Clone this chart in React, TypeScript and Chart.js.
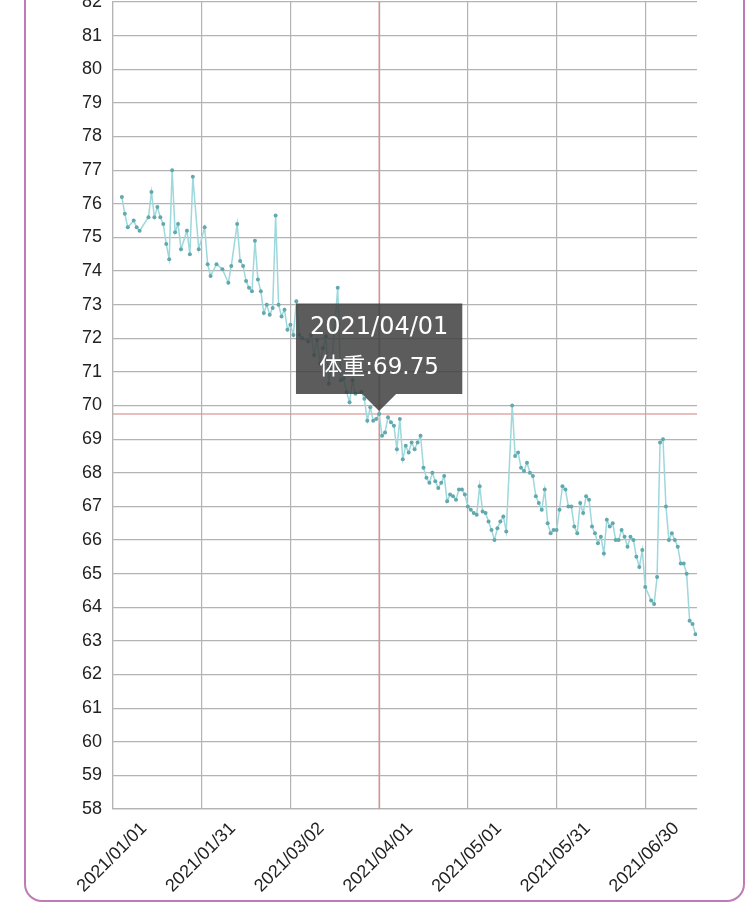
import { useEffect, useRef } from 'react';
import { Chart, registerables } from 'chart.js';

Chart.register(...registerables);

const dates = [
  '2021/01/04', '2021/01/05', '2021/01/06', '2021/01/08', '2021/01/09', '2021/01/10',
  '2021/01/13', '2021/01/14', '2021/01/15', '2021/01/16', '2021/01/17', '2021/01/18',
  '2021/01/19', '2021/01/20', '2021/01/21', '2021/01/22', '2021/01/23', '2021/01/24',
  '2021/01/26', '2021/01/27', '2021/01/28', '2021/01/30', '2021/02/01', '2021/02/02',
  '2021/02/03', '2021/02/05', '2021/02/07', '2021/02/09', '2021/02/10', '2021/02/12',
  '2021/02/13', '2021/02/14', '2021/02/15', '2021/02/16', '2021/02/17', '2021/02/18',
  '2021/02/19', '2021/02/20', '2021/02/21', '2021/02/22', '2021/02/23', '2021/02/24',
  '2021/02/25', '2021/02/26', '2021/02/27', '2021/02/28', '2021/03/01', '2021/03/02',
  '2021/03/03', '2021/03/04', '2021/03/05', '2021/03/06', '2021/03/08', '2021/03/09',
  '2021/03/10', '2021/03/11', '2021/03/12', '2021/03/13', '2021/03/14', '2021/03/15',
  '2021/03/16', '2021/03/18', '2021/03/19', '2021/03/20', '2021/03/21', '2021/03/22',
  '2021/03/23', '2021/03/24', '2021/03/26', '2021/03/27', '2021/03/28', '2021/03/29',
  '2021/03/30', '2021/03/31', '2021/04/01', '2021/04/02', '2021/04/03', '2021/04/04',
  '2021/04/05', '2021/04/06', '2021/04/07', '2021/04/08', '2021/04/09', '2021/04/10',
  '2021/04/11', '2021/04/12', '2021/04/13', '2021/04/14', '2021/04/15', '2021/04/16',
  '2021/04/17', '2021/04/18', '2021/04/19', '2021/04/20', '2021/04/21', '2021/04/22',
  '2021/04/23', '2021/04/24', '2021/04/25', '2021/04/26', '2021/04/27', '2021/04/28',
  '2021/04/29', '2021/04/30', '2021/05/01', '2021/05/02', '2021/05/03', '2021/05/04',
  '2021/05/05', '2021/05/06', '2021/05/07', '2021/05/08', '2021/05/09', '2021/05/10',
  '2021/05/11', '2021/05/12', '2021/05/13', '2021/05/14', '2021/05/16', '2021/05/17',
  '2021/05/18', '2021/05/19', '2021/05/20', '2021/05/21', '2021/05/22', '2021/05/23',
  '2021/05/24', '2021/05/25', '2021/05/26', '2021/05/27', '2021/05/28', '2021/05/29',
  '2021/05/30', '2021/05/31', '2021/06/01', '2021/06/02', '2021/06/03', '2021/06/04',
  '2021/06/05', '2021/06/06', '2021/06/07', '2021/06/08', '2021/06/09', '2021/06/10',
  '2021/06/11', '2021/06/12', '2021/06/13', '2021/06/14', '2021/06/15', '2021/06/16',
  '2021/06/17', '2021/06/18', '2021/06/19', '2021/06/20', '2021/06/21', '2021/06/22',
  '2021/06/23', '2021/06/24', '2021/06/25', '2021/06/26', '2021/06/27', '2021/06/28',
  '2021/06/29', '2021/06/30', '2021/07/02', '2021/07/03', '2021/07/04', '2021/07/05',
  '2021/07/06', '2021/07/07', '2021/07/08', '2021/07/09', '2021/07/10', '2021/07/11',
  '2021/07/12', '2021/07/13', '2021/07/14', '2021/07/15', '2021/07/16', '2021/07/17',
];

const weights = [
  76.2, 75.7, 75.3, 75.5, 75.3, 75.2,
  75.6, 76.35, 75.6, 75.9, 75.6, 75.4,
  74.8, 74.35, 77.0, 75.15, 75.4, 74.65,
  75.2, 74.5, 76.8, 74.65, 75.3, 74.2,
  73.85, 74.2, 74.05, 73.65, 74.15, 75.4,
  74.3, 74.15, 73.7, 73.5, 73.4, 74.9,
  73.75, 73.4, 72.75, 73.0, 72.7, 72.9,
  75.65, 73.0, 72.65, 72.85, 72.25, 72.4,
  72.1, 73.1, 72.1, 72.0, 71.9, 72.1,
  71.5, 71.95, 71.25, 71.7, 72.05, 70.65,
  71.3, 73.5, 70.75, 70.8, 70.4, 70.1,
  70.75, 70.35, 70.4, 70.2, 69.55, 69.95,
  69.55, 69.6, 69.75, 69.1, 69.2, 69.65,
  69.5, 69.4, 68.7, 69.6, 68.4, 68.8,
  68.6, 68.9, 68.7, 68.9, 69.1, 68.15,
  67.85, 67.7, 68.0, 67.75, 67.55, 67.7,
  67.9, 67.15, 67.35, 67.3, 67.2, 67.5,
  67.5, 67.35, 67.0, 66.9, 66.8, 66.75,
  67.6, 66.85, 66.8, 66.55, 66.3, 66.0,
  66.35, 66.55, 66.7, 66.25, 70.0, 68.5,
  68.6, 68.15, 68.05, 68.3, 68.0, 67.9,
  67.3, 67.1, 66.9, 67.5, 66.5, 66.2,
  66.3, 66.3, 66.9, 67.6, 67.5, 67.0,
  67.0, 66.4, 66.2, 67.1, 66.8, 67.3,
  67.2, 66.4, 66.2, 65.9, 66.1, 65.6,
  66.6, 66.4, 66.5, 66.0, 66.0, 66.3,
  66.1, 65.8, 66.1, 66.0, 65.5, 65.2,
  65.7, 64.6, 64.2, 64.1, 64.9, 68.9,
  69.0, 67.0, 66.0, 66.2, 66.0, 65.8,
  65.3, 65.3, 65.0, 63.6, 63.5, 63.2,
];

const xTickLabels = [
  '2021/01/01', '2021/01/31', '2021/03/02', '2021/04/01',
  '2021/05/01', '2021/05/31', '2021/06/30',
];

const axisStartDate = '2021/01/01';
const axisEndDate = '2021/07/17';
const yMin = 58;
const yMax = 82;
const highlightDate = '2021/04/01';
const seriesLabel = '体重';

function dayOf(s: string): number {
  const [y, m, d] = s.split('/').map(Number);
  const [y0, m0, d0] = axisStartDate.split('/').map(Number);
  return (Date.UTC(y, m - 1, d) - Date.UTC(y0, m0 - 1, d0)) / 86400000;
}

const tickFont = { family: "'Liberation Sans', Arial, sans-serif", size: 18 };
const gridColor = '#b3b3b3';

export default function App() {
  const ref = useRef<HTMLCanvasElement | null>(null);

  useEffect(() => {
    if (!ref.current) return;
    const points = dates.map((d, i) => ({ x: dayOf(d), y: weights[i] }));
    const hIdx = dates.indexOf(highlightDate);

    const crosshair = {
      id: 'crosshair',
      beforeDatasetsDraw(chart: any) {
        const { ctx, chartArea, scales } = chart;
        const px = scales.x.getPixelForValue(dayOf(highlightDate));
        const py = scales.y.getPixelForValue(weights[hIdx]);
        ctx.save();
        ctx.strokeStyle = 'rgba(214, 140, 140, 0.75)';
        ctx.lineWidth = 1.5;
        ctx.beginPath();
        ctx.moveTo(px, chartArea.top);
        ctx.lineTo(px, chartArea.bottom);
        ctx.moveTo(chartArea.left, py);
        ctx.lineTo(chartArea.right, py);
        ctx.stroke();
        ctx.restore();
      },
    };

    const chart = new Chart(ref.current, {
      type: 'line',
      data: {
        datasets: [
          {
            label: seriesLabel,
            data: points,
            borderColor: '#9dd8dc',
            borderWidth: 1.5,
            pointRadius: 2,
            pointBackgroundColor: '#62a9ae',
            pointBorderWidth: 0,
            tension: 0,
          },
        ],
      },
      options: {
        animation: false,
        responsive: false,
        maintainAspectRatio: false,
        events: [],
        layout: { padding: { top: 22, right: 53, left: 0, bottom: 0 } },
        plugins: {
          legend: { display: false },
          tooltip: {
            enabled: true,
            backgroundColor: 'rgba(64, 64, 64, 0.85)',
            titleColor: '#ffffff',
            bodyColor: '#ffffff',
            titleFont: { family: "'DejaVu Sans', 'Noto Sans CJK SC', sans-serif", size: 24, weight: 'normal' },
            bodyFont: { family: "'DejaVu Sans', 'Noto Sans CJK SC', sans-serif", size: 23, weight: 'normal' },
            titleAlign: 'center',
            bodyAlign: 'center',
            titleMarginBottom: 12,
            padding: { top: 10, bottom: 12, left: 14, right: 14 },
            cornerRadius: 0,
            displayColors: false,
            caretSize: 17,
            caretPadding: 3,
            xAlign: 'center',
            yAlign: 'bottom',
            callbacks: {
              title: (items: any[]) => dates[items[0].dataIndex],
              label: (item: any) => `${seriesLabel}:${weights[item.dataIndex]}`,
            },
          },
        },
        scales: {
          x: {
            type: 'linear',
            min: dayOf(axisStartDate),
            max: dayOf(axisEndDate) + 0.5,
            afterBuildTicks: (axis: any) => {
              axis.ticks = xTickLabels.map((l) => ({ value: dayOf(l) }));
            },
            afterFit: (axis: any) => {
              axis.height = 95;
            },
            grid: { color: gridColor, lineWidth: 1.2, drawTicks: false },
            border: { color: gridColor, width: 1.2 },
            ticks: {
              autoSkip: false,
              maxRotation: 45,
              minRotation: 45,
              padding: 9,
              labelOffset: 31,
              font: tickFont,
              color: '#222222',
              callback: (v: any) => {
                const l = xTickLabels.find((t) => dayOf(t) === v);
                return l ?? '';
              },
            },
          },
          y: {
            min: yMin,
            max: yMax,
            afterFit: (axis: any) => {
              axis.width = 113;
            },
            grid: { color: gridColor, lineWidth: 1.2, drawTicks: false },
            border: { color: gridColor, width: 1.2 },
            ticks: {
              stepSize: 1,
              padding: 11,
              font: tickFont,
              color: '#222222',
            },
          },
        },
      },
      plugins: [crosshair],
    } as any);

    chart.tooltip?.setActiveElements([{ datasetIndex: 0, index: hIdx }], { x: 0, y: 0 });
    chart.update();

    return () => chart.destroy();
  }, []);

  return (
    <div style={{ position: 'absolute', left: 0, top: 0, width: 750, height: 904, overflow: 'hidden', background: '#ffffff' }}>
      <div
        style={{
          position: 'absolute',
          left: 24,
          top: -30,
          width: 721,
          height: 932,
          boxSizing: 'border-box',
          border: '2px solid #c07ab5',
          borderRadius: 18,
          background: '#ffffff',
        }}
      />
      <canvas
        ref={ref}
        width={750}
        height={924}
        style={{ position: 'absolute', left: 0, top: -20, width: 750, height: 924 }}
      />
    </div>
  );
}
